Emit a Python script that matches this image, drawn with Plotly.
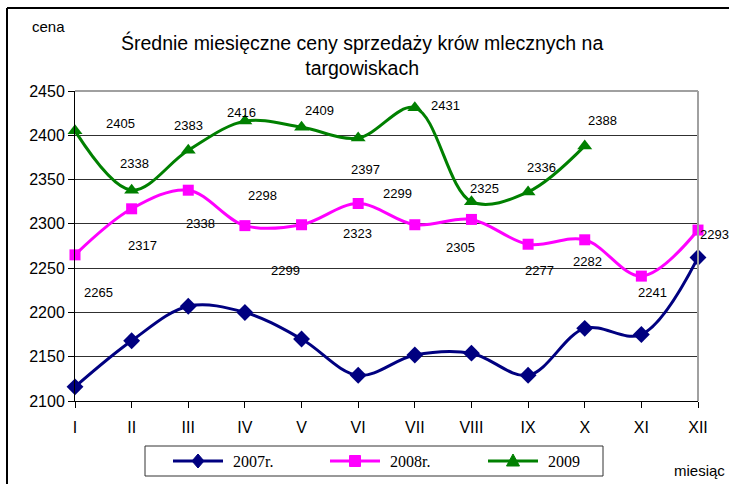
import plotly.graph_objects as go

months = ["I", "II", "III", "IV", "V", "VI", "VII", "VIII", "IX", "X", "XI", "XII"]
y2007 = [2116, 2168, 2207, 2200, 2170, 2129, 2152, 2154, 2129, 2182, 2175, 2262]
y2008 = [2265, 2317, 2338, 2298, 2299, 2323, 2299, 2305, 2277, 2282, 2241, 2293]
y2009 = [2405, 2338, 2383, 2416, 2409, 2397, 2431, 2325, 2336, 2388]
series_names = ["2007r.", "2008r.", "2009"]

# label offsets in pixels (style only): (dx, dy down)
off2008 = [(23, 38), (11, 37), (12, 33), (18, -30), (-16, 46), (-1, 30),
           (-17, -31), (-11, 28), (11, 26), (3, 22), (11, 16), (16, 4)]
off2009 = [(45, -7), (3, -27), (0, -25), (-3, -9), (18, -17), (7, 32),
           (31, -2), (13, -13), (13, -24), (18, -25)]

W, H = 729, 484
L, R, T, B = 75, 31, 91, 83
pw, ph = W - L - R, H - T - B

def px(x):
    return (x - L) / pw

def py(y):
    return (H - B - y) / ph

colors = ["#000080", "#FF00FF", "#008000"]

fig = go.Figure()
fig.add_trace(go.Scatter(x=months, y=y2007, name=series_names[0], mode="lines+markers",
                         line=dict(color=colors[0], width=3, shape="spline", smoothing=1),
                         marker=dict(symbol="diamond", size=13, color=colors[0]),
                         cliponaxis=False))
fig.add_trace(go.Scatter(x=months, y=y2008, name=series_names[1], mode="lines+markers",
                         line=dict(color=colors[1], width=3, shape="spline", smoothing=1),
                         marker=dict(symbol="square", size=11, color=colors[1]),
                         cliponaxis=False))
fig.add_trace(go.Scatter(x=months[:len(y2009)], y=y2009, name=series_names[2], mode="lines+markers",
                         line=dict(color=colors[2], width=3, shape="spline", smoothing=1),
                         marker=dict(symbol="triangle-up", size=13, color=colors[2]),
                         cliponaxis=False))

annotations = []
lab_font = dict(family="Liberation Sans, Arial", size=13, color="black")
for m, v, (dx, dy) in zip(months, y2008, off2008):
    annotations.append(dict(x=m, y=v, xref="x", yref="y", text=str(v), showarrow=False,
                            xanchor="center", yanchor="middle",
                            xshift=dx, yshift=-dy, font=lab_font))
for m, v, (dx, dy) in zip(months, y2009, off2009):
    annotations.append(dict(x=m, y=v, xref="x", yref="y", text=str(v), showarrow=False,
                            xanchor="center", yanchor="middle",
                            xshift=dx, yshift=-dy, font=lab_font))

annotations.append(dict(x=px(48), y=py(27), xref="paper", yref="paper", text="cena",
                        showarrow=False, xanchor="center", yanchor="middle",
                        font=dict(family="Liberation Sans, Arial", size=15, color="black")))
annotations.append(dict(x=px(672), y=py(470), xref="paper", yref="paper", text="miesiąc",
                        showarrow=False, xanchor="left", yanchor="middle",
                        font=dict(family="Liberation Sans, Arial", size=15, color="black")))
annotations.append(dict(x=0.5, y=py(55), xref="paper", yref="paper",
                        text="Średnie miesięczne ceny sprzedaży krów mlecznych na<br>targowiskach",
                        showarrow=False, xanchor="center", yanchor="middle",
                        xshift=-25,
                        font=dict(family="Liberation Sans, Arial", size=19.5, color="black")))

shapes = [
    # outer frame
    dict(type="line", xref="paper", yref="paper", x0=px(7), x1=px(7), y0=py(8), y1=py(490),
         line=dict(color="black", width=2)),
    dict(type="line", xref="paper", yref="paper", x0=px(7), x1=px(735), y0=py(8), y1=py(8),
         line=dict(color="black", width=2)),
    # plot area top & right border
    dict(type="line", xref="paper", yref="paper", x0=0, x1=1, y0=1, y1=1,
         line=dict(color="#a0a0a0", width=2)),
    dict(type="line", xref="paper", yref="paper", x0=1, x1=1, y0=0, y1=1,
         line=dict(color="#a0a0a0", width=2)),
    # legend box
    dict(type="rect", xref="paper", yref="paper", x0=px(145), x1=px(603), y0=py(446), y1=py(476),
         line=dict(color="#333333", width=1), fillcolor="white"),
]

# custom legend (symbols + labels)
leg_y = 461
leg_starts = [173, 330, 488]
leg_font = dict(family="Liberation Serif, Times New Roman", size=16, color="black")
for i, (name, c, x0) in enumerate(zip(series_names, colors, leg_starts)):
    shapes.append(dict(type="line", xref="paper", yref="paper", x0=px(x0), x1=px(x0 + 50),
                       y0=py(leg_y), y1=py(leg_y), line=dict(color=c, width=3)))
    cx = x0 + 25
    if i == 0:
        path = (f"M {px(cx-6)},{py(leg_y)} L {px(cx)},{py(leg_y-7)} "
                f"L {px(cx+6)},{py(leg_y)} L {px(cx)},{py(leg_y+7)} Z")
    elif i == 1:
        path = (f"M {px(cx-5.5)},{py(leg_y-5.5)} L {px(cx+5.5)},{py(leg_y-5.5)} "
                f"L {px(cx+5.5)},{py(leg_y+5.5)} L {px(cx-5.5)},{py(leg_y+5.5)} Z")
    else:
        path = (f"M {px(cx)},{py(leg_y-7)} L {px(cx+6.5)},{py(leg_y+5)} "
                f"L {px(cx-6.5)},{py(leg_y+5)} Z")
    shapes.append(dict(type="path", xref="paper", yref="paper", path=path,
                       fillcolor=c, line=dict(color=c, width=1)))
    annotations.append(dict(x=px(x0 + 58), y=py(leg_y), xref="paper", yref="paper", text=name,
                            showarrow=False, xanchor="left", yanchor="middle", font=leg_font))

fig.update_layout(
    width=W, height=H,
    margin=dict(l=L, r=R, t=T, b=B, autoexpand=False),
    paper_bgcolor="white", plot_bgcolor="white",
    showlegend=False,
    annotations=annotations,
    shapes=shapes,
)
fig.update_xaxes(type="category", range=[0, 11], showgrid=False, showline=True,
                 linecolor="black", linewidth=1, ticks="outside", ticklen=6, tickcolor="black",
                 ticklabelstandoff=6,
                 tickfont=dict(family="Liberation Sans, Arial", size=16, color="black"),
                 zeroline=False)
fig.update_yaxes(range=[2100, 2450], dtick=50, showgrid=True, gridcolor="#303030", gridwidth=1,
                 showline=True, linecolor="black", linewidth=1, ticks="outside", ticklen=6,
                 tickcolor="black",
                 tickfont=dict(family="Liberation Sans, Arial", size=16, color="black"),
                 zeroline=False)

fig.write_html("out.html", config={"displayModeBar": False},
               post_script="document.body.style.margin='0';document.body.style.overflow='hidden';")
